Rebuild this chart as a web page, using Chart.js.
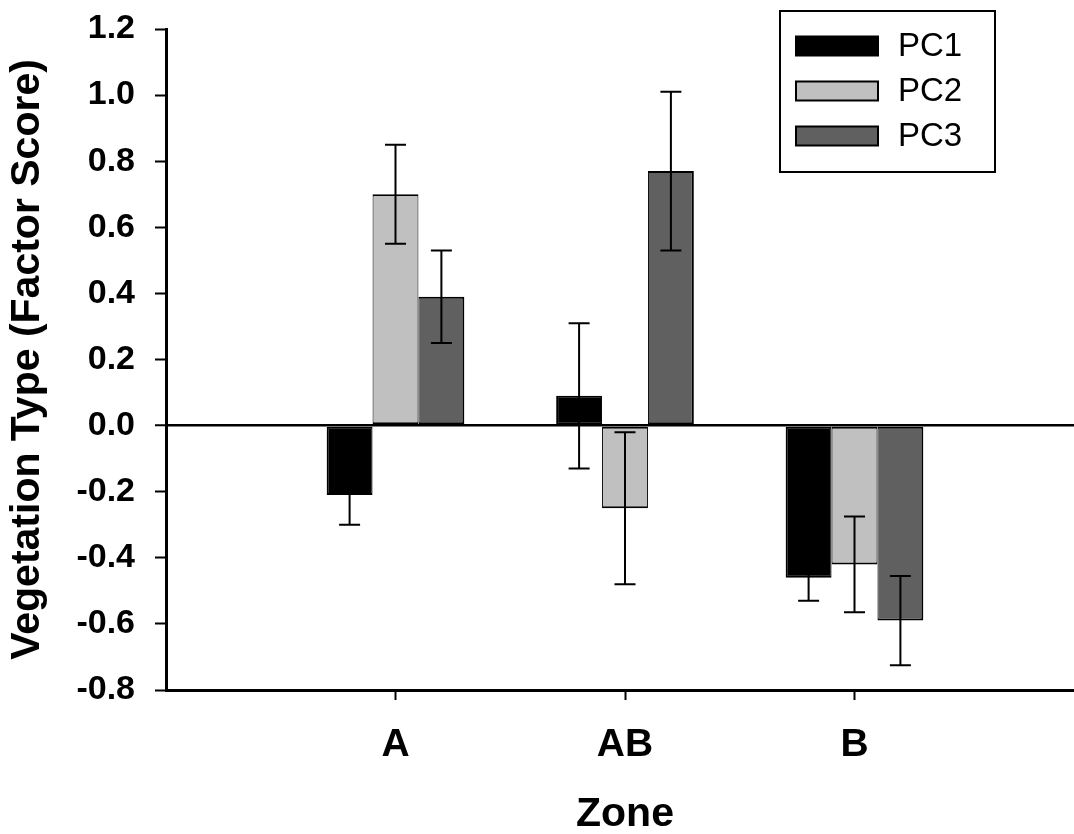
<!DOCTYPE html>
<html>
<head>
<meta charset="utf-8">
<script src="https://cdn.jsdelivr.net/npm/chart.js@4/dist/chart.umd.min.js"></script>
<style>
  html, body { margin: 0; padding: 0; background: #fff; overflow: hidden; }
  #wrap { width: 1090px; height: 834px; }
</style>
</head>
<body>
<div id="wrap"><canvas id="c" width="1090" height="834"></canvas></div>
<script>
// ---- data ----
const categories = ['A', 'AB', 'B'];
const seriesNames = ['PC1', 'PC2', 'PC3'];
const pc1 = [-0.21, 0.09, -0.46];
const pc2 = [0.70, -0.25, -0.42];
const pc3 = [0.39, 0.77, -0.59];
const pc1Err = [0.09, 0.22, 0.07];
const pc2Err = [0.15, 0.23, 0.145];
const pc3Err = [0.14, 0.24, 0.135];
const yTicks = [-0.8, -0.6, -0.4, -0.2, 0.0, 0.2, 0.4, 0.6, 0.8, 1.0, 1.2];
const xTitle = 'Zone';
const yTitle = 'Vegetation Type (Factor Score)';

// padded category axis (empty slots at both ends like the original)
const labels = [''].concat(categories, ['']);
const pad = arr => [null].concat(arr, [null]);
const errs = [pc1Err, pc2Err, pc3Err];
const colors = ['#000000', '#c0c0c0', '#606060'];
const borders = [
  {top: 2, bottom: 2, left: 2, right: 1},
  {top: 2, bottom: 2, left: 1, right: 1},
  {top: 2, bottom: 2, left: 1, right: 2}
];

Chart.defaults.font.family = "'Liberation Sans', Arial, Helvetica, sans-serif";
Chart.defaults.color = '#000';

const errorBars = {
  id: 'errorBars',
  afterDatasetsDraw(chart) {
    const ctx = chart.ctx;
    const ys = chart.scales.y;
    ctx.save();
    ctx.strokeStyle = '#000';
    ctx.lineWidth = 2;
    chart.data.datasets.forEach((ds, i) => {
      const meta = chart.getDatasetMeta(i);
      const e = ds.errors;
      meta.data.forEach((el, j) => {
        const v = ds.data[j];
        if (v === null || e[j] === null) return;
        const x = el.x;
        const yHi = ys.getPixelForValue(v + e[j]);
        const yLo = ys.getPixelForValue(v - e[j]);
        ctx.beginPath();
        ctx.moveTo(x, yHi); ctx.lineTo(x, yLo);
        ctx.moveTo(x - 10.5, yHi); ctx.lineTo(x + 10.5, yHi);
        ctx.moveTo(x - 10.5, yLo); ctx.lineTo(x + 10.5, yLo);
        ctx.stroke();
      });
    });
    ctx.restore();
  }
};

const boxLegend = {
  id: 'boxLegend',
  afterDraw(chart) {
    const ctx = chart.ctx;
    ctx.save();
    ctx.strokeStyle = '#000';
    ctx.lineWidth = 2;
    ctx.strokeRect(780, 11, 215, 161);
    ctx.font = "33px 'Liberation Sans', Arial, sans-serif";
    ctx.textBaseline = 'middle';
    ctx.textAlign = 'left';
    chart.data.datasets.forEach((ds, i) => {
      const cy = 46 + i * 45;
      ctx.fillStyle = ds.backgroundColor;
      ctx.fillRect(796, cy - 9.5, 82, 19);
      ctx.lineWidth = 2;
      ctx.strokeRect(796, cy - 9.5, 82, 19);
      ctx.fillStyle = '#000';
      ctx.fillText(ds.label, 898, cy + 1);
    });
    ctx.restore();
  }
};

const datasets = [pc1, pc2, pc3].map((d, i) => ({
  label: seriesNames[i],
  data: pad(d),
  errors: pad(errs[i]),
  backgroundColor: colors[i],
  borderColor: '#000',
  borderWidth: borders[i],
  borderSkipped: false,
  categoryPercentage: 0.6,
  barPercentage: 1.0
}));

const zeroPad = s => { s.paddingTop = 0; s.paddingBottom = 0; s.paddingLeft = 0; s.paddingRight = 0; };

new Chart(document.getElementById('c'), {
  type: 'bar',
  data: { labels, datasets },
  options: {
    responsive: false,
    animation: false,
    devicePixelRatio: 1,
    layout: { padding: { top: 29, right: 6, left: 0, bottom: 0 } },
    plugins: {
      legend: { display: false },
      tooltip: { enabled: false }
    },
    scales: {
      x: {
        type: 'category',
        offset: false,
        afterFit: s => { s.height = 144; zeroPad(s); },
        border: { display: true, color: '#000', width: 3 },
        grid: {
          offset: false,
          drawOnChartArea: false,
          drawTicks: true,
          tickLength: 10,
          tickWidth: 2,
          color: 'rgba(0,0,0,0)',
          tickColor: ctx => (ctx.index >= 1 && ctx.index <= categories.length) ? '#000' : 'rgba(0,0,0,0)'
        },
        ticks: {
          autoSkip: false,
          maxRotation: 0,
          padding: 26,
          color: '#000',
          font: { size: 39, weight: 'bold', lineHeight: 1 }
        },
        title: {
          display: true,
          text: xTitle,
          color: '#000',
          font: { size: 41, weight: 'bold', lineHeight: 1 },
          padding: { top: 0, bottom: -1 }
        }
      },
      y: {
        min: yTicks[0],
        max: yTicks[yTicks.length - 1],
        afterFit: s => { s.width = 166; zeroPad(s); },
        afterBuildTicks: s => { s.ticks = yTicks.map(v => ({ value: v })); },
        border: { display: true, color: '#000', width: 3 },
        grid: {
          drawOnChartArea: true,
          drawTicks: true,
          tickLength: 11,
          tickWidth: 2,
          tickColor: '#000',
          color: ctx => (ctx.tick && Math.abs(ctx.tick.value) < 1e-9) ? '#000' : 'rgba(0,0,0,0)',
          lineWidth: ctx => (ctx.tick && Math.abs(ctx.tick.value) < 1e-9) ? 2.5 : 1
        },
        ticks: {
          padding: 20,
          color: '#000',
          font: { size: 34, weight: 'bold', lineHeight: 1.2 },
          callback: v => { const r = Math.abs(v) < 1e-9 ? 0 : v; return r.toFixed(1); }
        },
        title: {
          display: true,
          text: yTitle,
          color: '#000',
          font: { size: 41, weight: 'bold', lineHeight: 1 },
          padding: { top: 7.5, bottom: 0 }
        }
      }
    }
  },
  plugins: [errorBars, boxLegend]
});
</script>
</body>
</html>
